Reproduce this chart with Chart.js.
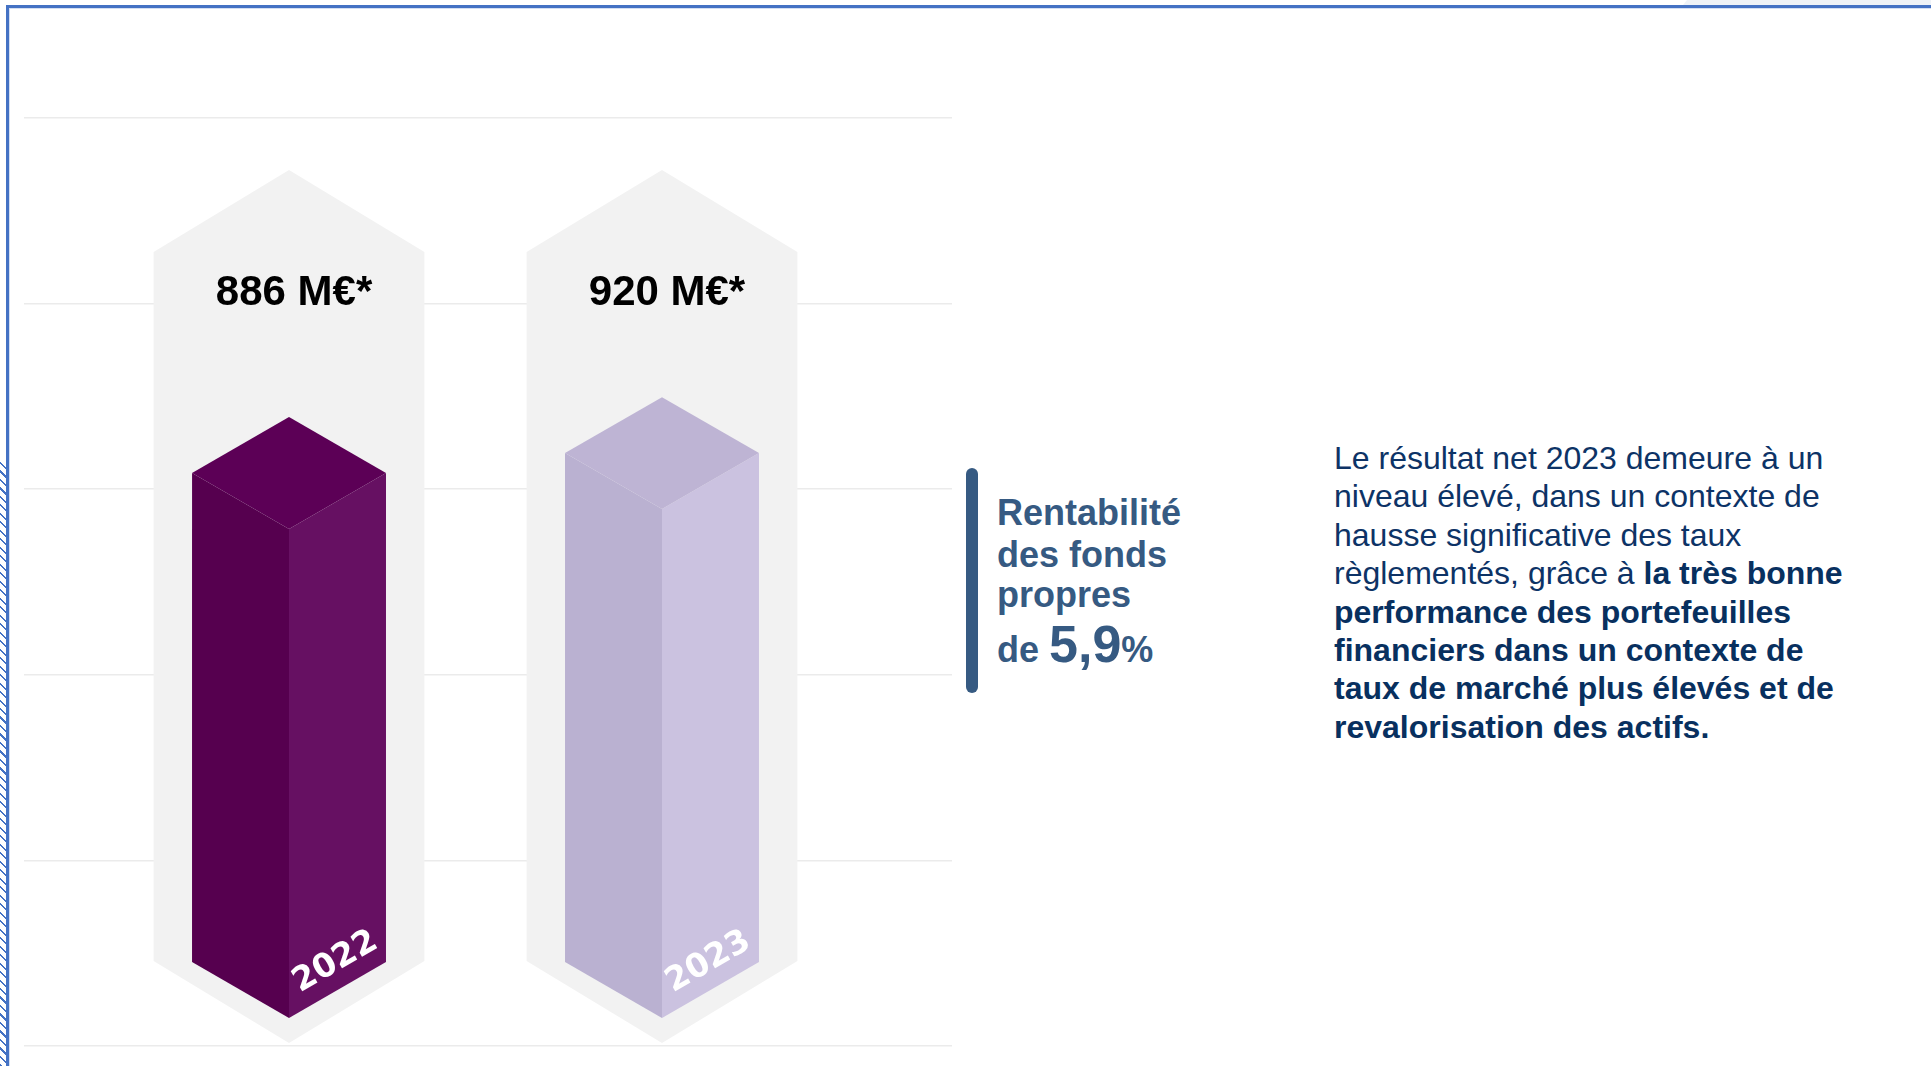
<!DOCTYPE html>
<html>
<head>
<meta charset="utf-8">
<title>Résultat net 2022 - 2023</title>
<script src="https://cdn.jsdelivr.net/npm/chart.js"></script>
<style>
  body { margin: 0; width: 1931px; height: 1066px; background: #fff; position: relative; overflow: hidden;
         font-family: "Liberation Sans", Arial, sans-serif; }
  .frame-top { position: absolute; left: 6px; right: 0; top: 5px; height: 2.5px; background: #4472c4; }
  .frame-left { position: absolute; left: 6px; top: 5px; bottom: 0; width: 2.5px; background: #4472c4; }
  .frame-inner { position: absolute; left: 8.5px; top: 7.5px; right: 0; bottom: 0;
                 border-left: 1px solid #d3def2; border-top: 1px solid #d3def2; }
  .hatch { position: absolute; left: 0; top: 462px; bottom: 0; width: 6px;
           background: repeating-linear-gradient(45deg, #4472c4 0 1.5px, transparent 1.5px 6px); }
  .tab { position: absolute; left: 1683px; right: 0; top: 0; height: 5px; background: #eef2f7;
         clip-path: polygon(4px 0, 100% 0, 100% 100%, 0 100%); }
  #wrap { position: absolute; left: 0; top: 0; width: 980px; height: 1066px; }
  .bar { position: absolute; left: 966px; top: 468px; width: 12px; height: 225px; border-radius: 6px; background: #365a82; }
  .roe { position: absolute; left: 997px; color: #365a82; font-weight: bold; font-size: 36px; white-space: nowrap; }
  .roe .big { font-size: 52px; }
  .note { position: absolute; left: 1334px; top: 439px; color: #0d3366; font-size: 32px; line-height: 38.4px; white-space: nowrap; }
  .note b { color: #08305f; }
</style>
</head>
<body>
<div class="tab"></div>
<div class="frame-inner"></div>
<div class="frame-top"></div>
<div class="frame-left"></div>
<div class="hatch"></div>

<div id="wrap"><canvas id="myChart"></canvas></div>

<div class="bar"></div>
<div class="roe" style="top:495px; line-height:36px;">Rentabilité</div>
<div class="roe" style="top:537px; line-height:36px;">des fonds</div>
<div class="roe" style="top:577px; line-height:36px;">propres</div>
<div class="roe" style="top:618px; line-height:52px;">de <span class="big">5,9</span>%</div>

<div class="note">
Le résultat net 2023 demeure à un<br>
niveau élevé, dans un contexte de<br>
hausse significative des taux<br>
règlementés, grâce à <b>la très bonne</b><br>
<b>performance des portefeuilles</b><br>
<b>financiers dans un contexte de</b><br>
<b>taux de marché plus élevés et de</b><br>
<b>revalorisation des actifs.</b>
</div>

<script>
    // chart data
    const years = ['2022', '2023'];
    const values = [886, 920];            // résultat net, M€
    const unitLabel = ' M€*';

    // colours: [left face, right face, top face] per year
    const palette = [
        ['#56004f', '#661062', '#5c0056'],
        ['#bab1d1', '#cbc2e0', '#beb4d4']
    ];

    const FONT = '"Liberation Sans", Arial, sans-serif';

    function poly(ctx, pts, color) {
        ctx.beginPath();
        ctx.moveTo(pts[0][0], pts[0][1]);
        for (let k = 1; k < pts.length; k++) ctx.lineTo(pts[k][0], pts[k][1]);
        ctx.closePath();
        ctx.fillStyle = color;
        ctx.fill();
    }

    // draws the grey hexagon behind each year and the isometric column on top
    const prismPlugin = {
        id: 'prisms',
        beforeDatasetsDraw(chart) {
            const { ctx, chartArea, scales: { x } } = chart;
            const unit = x.getPixelForValue(1) - x.getPixelForValue(0);
            const hw = unit * 0.363, rise = hw * 0.605;
            const top = chartArea.top + 52, bottom = chartArea.bottom - 3;
            ctx.save();
            years.forEach((_, i) => {
                const c = x.getPixelForValue(i);
                poly(ctx, [[c, top], [c + hw, top + rise], [c + hw, bottom - rise],
                           [c, bottom], [c - hw, bottom - rise], [c - hw, top + rise]], '#f2f2f2');
            });
            ctx.restore();
        },
        afterDatasetsDraw(chart) {
            const { ctx, chartArea, scales: { x, y } } = chart;
            const unit = x.getPixelForValue(1) - x.getPixelForValue(0);
            const hw = unit * 0.26, dy = hw * 0.577;
            ctx.save();
            values.forEach((v, i) => {
                const c = x.getPixelForValue(i);
                const T = y.getPixelForValue(v);
                const B = y.getPixelForValue(0) - 28;
                const [cl, cr, ct] = palette[i];
                poly(ctx, [[c - hw, T - dy], [c, T], [c, B], [c - hw, B - dy]], cl);
                poly(ctx, [[c, T], [c + hw, T - dy], [c + hw, B - dy], [c, B]], cr);
                poly(ctx, [[c, T - 2 * dy], [c + hw, T - dy], [c, T], [c - hw, T - dy]], ct);

                // value above
                ctx.fillStyle = '#000';
                ctx.font = 'bold 42px ' + FONT;
                ctx.textAlign = 'center';
                ctx.textBaseline = 'alphabetic';
                ctx.fillText(v + unitLabel, c + 5, chartArea.top + 187);

                // year on the right face
                ctx.save();
                ctx.translate(c + hw * 0.48, B - dy);
                ctx.rotate(-Math.PI / 6);
                ctx.fillStyle = '#fff';
                ctx.font = 'bold 33px "DejaVu Sans", sans-serif';
                ctx.textBaseline = 'middle';
                ctx.fillText(years[i], 0, 0);
                ctx.restore();
            });
            ctx.restore();
        }
    };

    const ctx = document.getElementById('myChart').getContext('2d');
    new Chart(ctx, {
        type: 'bar',
        data: {
            datasets: [{
                data: values.map((v, i) => ({ x: i, y: v })),
                backgroundColor: 'rgba(0,0,0,0)',
                borderWidth: 0
            }]
        },
        options: {
            responsive: true,
            maintainAspectRatio: false,
            animation: false,
            events: [],
            layout: { padding: { left: 24, right: 28, top: 118, bottom: 20 } },
            plugins: { legend: { display: false }, tooltip: { enabled: false } },
            scales: {
                x: { type: 'linear', display: false, offset: false, min: -0.7105, max: 1.7775 },
                y: {
                    min: 0,
                    max: 1590,
                    ticks: { display: false, stepSize: 318 },
                    border: { display: false },
                    grid: { color: '#ebebeb', lineWidth: 1.5, drawTicks: false },
                    afterFit(scale) { scale.width = 0; }
                }
            }
        },
        plugins: [prismPlugin]
    });
</script>
</body>
</html>
